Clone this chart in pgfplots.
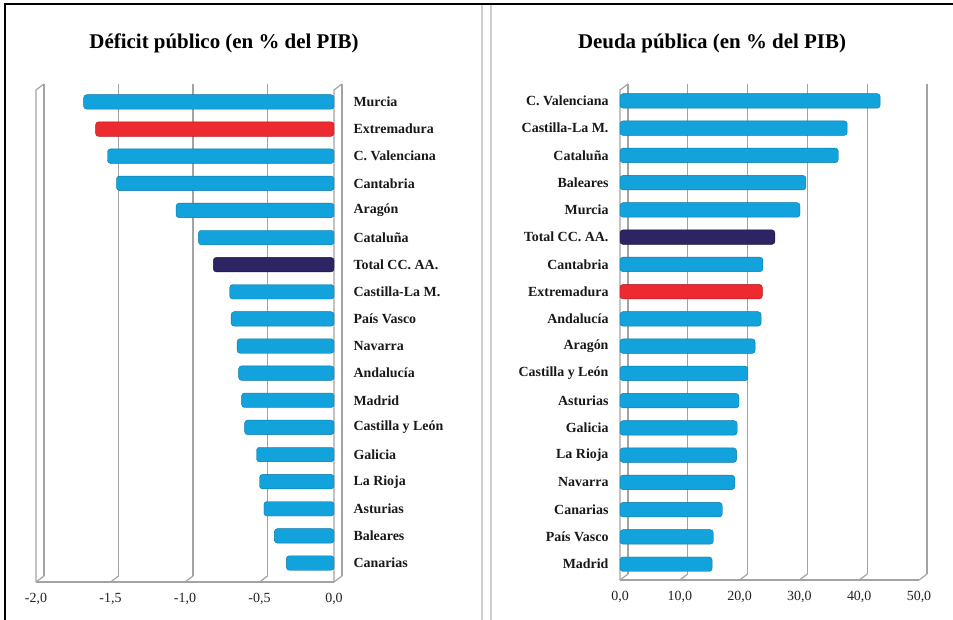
\documentclass[border=0pt]{standalone}
\usepackage{pgfplots}
\pgfplotsset{compat=1.18}
\usepackage{fontspec}
\setmainfont{Liberation Serif}
\definecolor{barblue}{HTML}{12A2DC}
\definecolor{barblueedge}{HTML}{0B78A8}
\definecolor{barred}{HTML}{EC2A30}
\definecolor{barrededge}{HTML}{B01A1F}
\definecolor{barnavy}{HTML}{2C2463}
\definecolor{barnavyedge}{HTML}{1A1540}
\definecolor{wallgray}{HTML}{A3A3A3}
\definecolor{divgray}{HTML}{CFCFCF}
\definecolor{ticktext}{HTML}{222222}
\tikzset{wall/.style={wallgray, line width=1.2bp}}
\pgfplotsset{
  backgrid/.style={scale only axis, clip=false, ymin=0, ymax=1, ytick=\empty,
    xmajorgrids, axis line style={draw=none}, major tick length=0pt, xticklabels={},
    grid style={wallgray, line width=1.2bp}},
  frontbars/.style={scale only axis, clip=false, xbar, bar width=14.5bp, bar shift=0pt,
    y dir=reverse, axis line style={draw=none}, major tick length=0pt, ytick={0,...,17},
    xticklabel style={font=\fontsize{14}{16}\selectfont, text=ticktext, anchor=north, yshift=-8bp},
    yticklabel style={font=\fontsize{14}{16}\selectfont\bfseries, text=black!90}},
}
\begin{document}
\begin{tikzpicture}
\useasboundingbox (0bp,0bp) rectangle (953bp,620bp);
\fill[white] (0bp,0bp) rectangle (953bp,620bp);
\draw[black, line width=1.6bp] (5bp,0bp) -- (5bp,616bp) -- (953bp,616bp);
\draw[divgray, line width=1.6bp] (482bp,0bp) -- (482bp,615bp);
\draw[divgray, line width=1.6bp] (491bp,0bp) -- (491bp,615bp);

\node[font=\fontsize{21}{24}\selectfont\bfseries] at (224bp,577bp) {Déficit público (en \% del PIB)};
\node[font=\fontsize{21}{24}\selectfont\bfseries] at (712bp,577bp) {Deuda pública (en \% del PIB)};

% ---------- left: back wall ----------
\begin{axis}[backgrid, at={(44bp,44bp)}, anchor=south west, width=298bp, height=492bp,
  xmin=-2, xmax=0, xtick={-2,-1.5,-1,-0.5,0}]
\pgfplotsinvokeforeach{-2,-1.5,-1,-0.5,0}{\draw[wall] (axis cs:#1,0) -- ++(-8bp,-6bp);}
\draw[wall] ([shift={(-8bp,-6bp)}]rel axis cs:0,0) -- ([shift={(-8bp,-6bp)}]rel axis cs:1,0);
\draw[wall] ([shift={(-8bp,-6bp)}]rel axis cs:0,0) -- ([shift={(-8bp,-6bp)}]rel axis cs:0,1) -- (rel axis cs:0,1);
\draw[wall] ([shift={(-8bp,-6bp)}]rel axis cs:1,0) -- ([shift={(-8bp,-6bp)}]rel axis cs:1,1) -- (rel axis cs:1,1);
\end{axis}
% ---------- left: bars ----------
\begin{axis}[frontbars, at={(36bp,38bp)}, anchor=south west, width=298bp, height=492bp,
  xmin=-2, xmax=0, ymin=-0.44, ymax=17.70,
  xtick={-2,-1.5,-1,-0.5,0}, xticklabels={{-2,0},{-1,5},{-1,0},{-0,5},{0,0}},
  yticklabel pos=right, yticklabel style={anchor=west, xshift=16bp},
  yticklabels={Murcia, Extremadura, C. Valenciana, Cantabria, Aragón, Cataluña, Total CC. AA., Castilla-La M., País Vasco, Navarra, Andalucía, Madrid, Castilla y León, Galicia, La Rioja, Asturias, Baleares, Canarias}]
\addplot[fill=barblue, draw=barblueedge, rounded corners=3bp] coordinates {
 (-1.68,0) (-1.52,2) (-1.46,3) (-1.06,4) (-0.91,5) (-0.70,7) (-0.69,8) (-0.65,9)
 (-0.64,10) (-0.62,11) (-0.60,12) (-0.52,13) (-0.50,14) (-0.47,15) (-0.40,16) (-0.32,17)};
\addplot[fill=barred, draw=barrededge, rounded corners=3bp] coordinates {(-1.60,1)};
\addplot[fill=barnavy, draw=barnavyedge, rounded corners=3bp] coordinates {(-0.81,6)};
\end{axis}

% ---------- right: back wall ----------
\begin{axis}[backgrid, at={(628bp,46bp)}, anchor=south west, width=299bp, height=490bp,
  xmin=0, xmax=50, xtick={0,10,...,50}]
\pgfplotsinvokeforeach{0,10,20,30,40,50}{\draw[wall] (axis cs:#1,0) -- ++(-8bp,-6bp);}
\draw[wall] ([shift={(-8bp,-6bp)}]rel axis cs:0,0) -- ([shift={(-8bp,-6bp)}]rel axis cs:1,0);
\draw[wall] ([shift={(-8bp,-6bp)}]rel axis cs:0,0) -- ([shift={(-8bp,-6bp)}]rel axis cs:0,1) -- (rel axis cs:0,1);
\end{axis}
% ---------- right: bars ----------
\begin{axis}[frontbars, at={(620bp,40bp)}, anchor=south west, width=299bp, height=490bp,
  xmin=0, xmax=50, ymin=-0.40, ymax=17.58,
  xtick={0,10,...,50}, xticklabels={{0,0},{10,0},{20,0},{30,0},{40,0},{50,0}},
  yticklabel style={anchor=east, xshift=-8bp},
  yticklabels={C. Valenciana, Castilla-La M., Cataluña, Baleares, Murcia, Total CC. AA., Cantabria, Extremadura, Andalucía, Aragón, Castilla y León, Asturias, Galicia, La Rioja, Navarra, Canarias, País Vasco, Madrid}]
\addplot[fill=barblue, draw=barblueedge, rounded corners=3bp] coordinates {
 (43.5,0) (38.0,1) (36.5,2) (31.1,3) (30.1,4) (23.9,6) (23.6,8) (22.6,9)
 (21.4,10) (19.9,11) (19.6,12) (19.5,13) (19.2,14) (17.1,15) (15.6,16) (15.4,17)};
\addplot[fill=barnavy, draw=barnavyedge, rounded corners=3bp] coordinates {(25.9,5)};
\addplot[fill=barred, draw=barrededge, rounded corners=3bp] coordinates {(23.8,7)};
\end{axis}
\end{tikzpicture}
\end{document}
